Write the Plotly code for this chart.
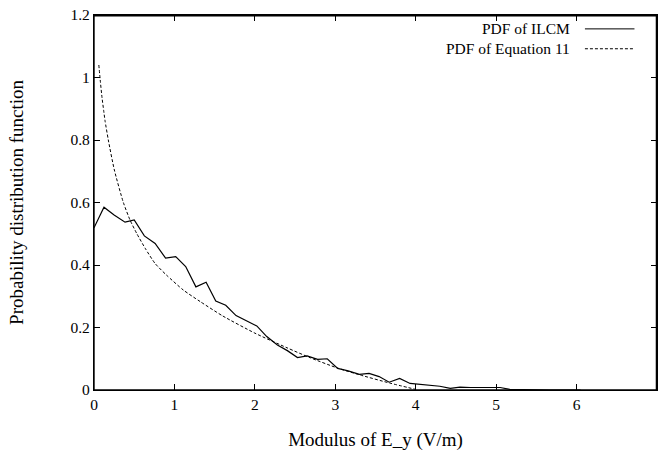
import plotly.graph_objects as go

# ILCM histogram-based PDF
ilcm_x = [0.0, 0.124, 0.25, 0.386, 0.50, 0.626, 0.76, 0.89, 1.016, 1.14, 1.267, 1.394,
          1.514, 1.638, 1.766, 1.899, 2.024, 2.148, 2.28, 2.404, 2.53, 2.65, 2.78, 2.90,
          3.03, 3.16, 3.30, 3.42, 3.545, 3.67, 3.80, 3.93, 4.05, 4.18, 4.30, 4.43, 4.55,
          4.68, 4.80, 4.93, 5.05, 5.17, 5.30, 5.43, 5.55, 5.68, 5.80, 5.93, 6.05]
ilcm_y = [0.519, 0.585, 0.560, 0.537, 0.544, 0.493, 0.469, 0.422, 0.427, 0.395, 0.330, 0.345,
          0.285, 0.271, 0.238, 0.221, 0.205, 0.171, 0.144, 0.126, 0.104, 0.109, 0.098, 0.100,
          0.069, 0.061, 0.050, 0.053, 0.043, 0.025, 0.037, 0.021, 0.018, 0.016, 0.012, 0.005, 0.009,
          0.008, 0.008, 0.008, 0.008, 0.002, 0.001, 0.001, 0.0, 0.0, 0.0, 0.0, 0.0]

# Equation 11 PDF
eq_x = [0.06, 0.08, 0.10, 0.12, 0.137, 0.178, 0.253, 0.365, 0.448, 0.531, 0.64, 0.759,
        0.90, 1.11, 1.32, 1.60, 2.0, 2.4, 2.69, 3.03, 3.31, 3.68, 4.0]
eq_y = [1.04, 0.985, 0.935, 0.895, 0.862, 0.80, 0.704, 0.60, 0.544, 0.501, 0.452, 0.405,
        0.368, 0.32, 0.283, 0.237, 0.182, 0.135, 0.103, 0.07, 0.048, 0.022, 0.002]

x_ticks = [0, 1, 2, 3, 4, 5, 6, 7]
x_tick_text = ["0", "1", "2", "3", "4", "5", "6", "7"]
y_ticks = [0, 0.2, 0.4, 0.6, 0.8, 1, 1.2]
y_tick_text = ["0", "0.2", "0.4", "0.6", "0.8", "1", "1.2"]

names = ["PDF of ILCM", "PDF of Equation 11"]

FONT = "Liberation Serif, Times New Roman, serif"
FS = 15.5

fig = go.Figure()
fig.add_trace(go.Scatter(x=ilcm_x, y=ilcm_y, mode="lines", name=names[0],
                         line=dict(color="black", width=1.2), showlegend=False))
fig.add_trace(go.Scatter(x=eq_x, y=eq_y, mode="lines", name=names[1], line_shape="spline",
                         line=dict(color="black", width=1, dash="3px,2px", smoothing=0.6),
                         showlegend=False))

# manual legend (text right, sample line on the right like gnuplot)
leg_y = [0.963, 0.91]
dashes = ["solid", "3px,2px"]
for i, nm in enumerate(names):
    fig.add_annotation(x=0.849, y=leg_y[i], xref="paper", yref="paper", text=nm,
                       showarrow=False, xanchor="right", yanchor="middle",
                       font=dict(family=FONT, size=FS, color="black"))
    fig.add_shape(type="line", xref="paper", yref="paper", x0=0.872, x1=0.96,
                  y0=leg_y[i], y1=leg_y[i], line=dict(color="black", width=1, dash=dashes[i]))

# plot frame
fig.add_shape(type="rect", xref="paper", yref="paper", x0=0, x1=0.999, y0=0, y1=0.998,
              line=dict(color="black", width=1.4), layer="above")

common = dict(ticks="inside", ticklen=6, tickcolor="black", showline=True, linecolor="black",
              linewidth=1.2, showgrid=False, zeroline=False, automargin=False, mirror="allticks")

fig.update_layout(
    width=661, height=451,
    margin=dict(l=94, r=4, t=15, b=61),
    paper_bgcolor="white", plot_bgcolor="white",
    font=dict(family=FONT, size=FS, color="black"),
    xaxis=dict(range=[0, 7], tickvals=x_ticks, ticktext=x_tick_text,
               title=dict(text="Modulus of E_y (V/m)", standoff=20), **common),
    yaxis=dict(range=[0, 1.2], tickvals=y_ticks, ticktext=y_tick_text,
               title=dict(text="Probability distribution function", standoff=41), **common),
)

fig.write_html("out.html", post_script="document.body.style.margin='0';",
               config={"displayModeBar": False})
